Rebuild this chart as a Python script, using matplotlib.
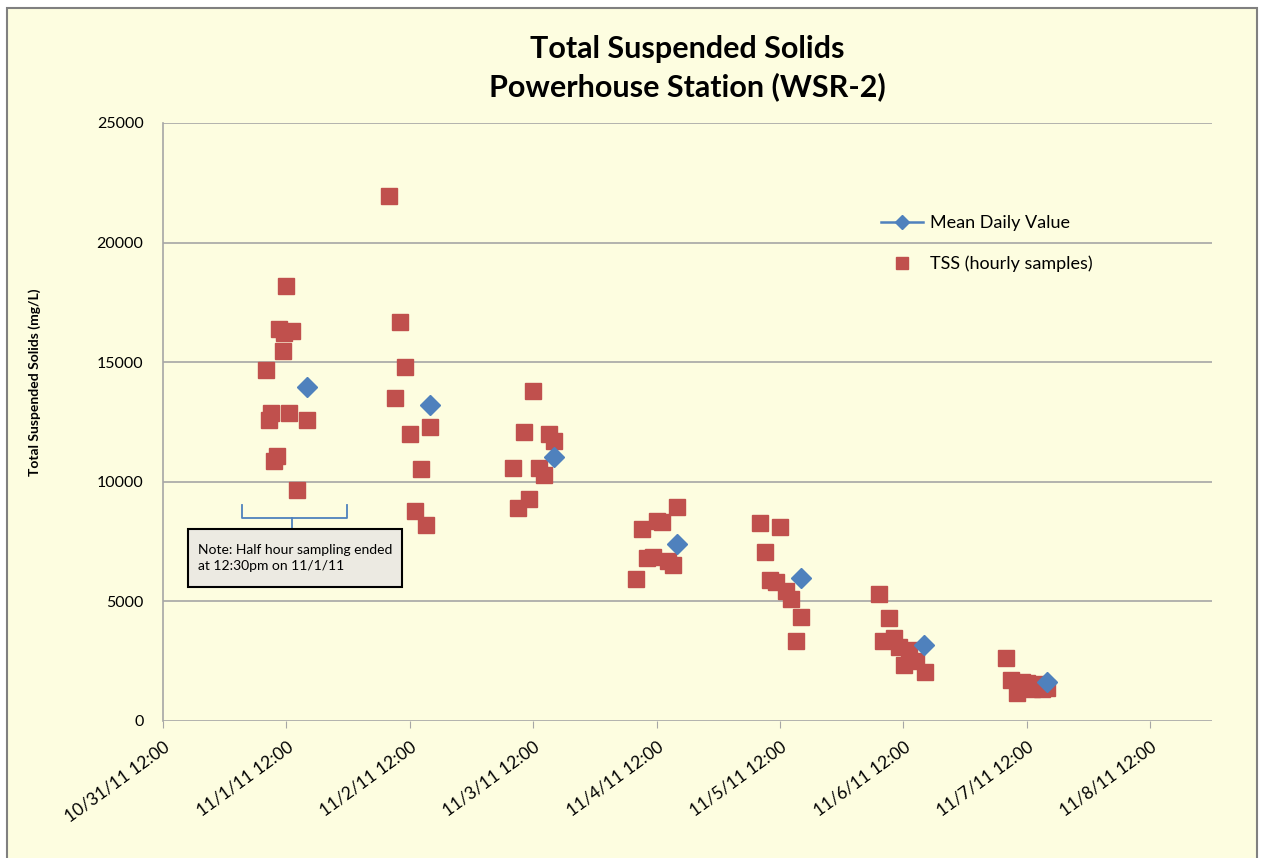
import numpy as np
import pandas as pd
import matplotlib
matplotlib.use("Agg")
import matplotlib.pyplot as plt
from matplotlib.lines import Line2D
from matplotlib.patches import Rectangle

# --- DATA (hours after 10/31/11 12:00) ---
START = pd.Timestamp("2011-10-31 12:00")

tss_hours = [20.0, 20.6, 21.1, 21.6, 22.1, 22.6, 23.3, 23.5, 24.0, 24.6, 25.1, 26.1, 28.0,
             44.0, 45.1, 46.1, 47.1, 48.0, 49.0, 50.1, 51.2, 52.0,
             68.1, 69.0, 70.2, 71.1, 72.0, 73.1, 74.0, 75.1, 76.1,
             92.0, 93.1, 94.2, 95.2, 96.0, 97.0, 98.2, 99.1, 100.0,
             116.1, 117.0, 118.1, 119.2, 120.0, 121.1, 122.1, 123.1, 124.1,
             139.3, 140.0, 141.2, 142.2, 143.2, 144.1, 145.1, 146.4, 148.1,
             164.0, 165.0, 166.0, 167.0, 168.0, 169.0, 170.0, 171.0, 172.0]
tss_values = [14670, 12580, 12860, 10870, 11090, 16400, 15470, 16200, 18200, 12860, 16300, 9660, 12580,
              21960, 13490, 16700, 14810, 12000, 8790, 10520, 8190, 12280,
              10560, 8900, 12070, 9290, 13780, 10560, 10270, 12000, 11700,
              5920, 8010, 6800, 6840, 8370, 8300, 6700, 6520, 8960,
              8290, 7080, 5890, 5800, 8100, 5430, 5100, 3340, 4360,
              5310, 3360, 4320, 3460, 3110, 2340, 2970, 2520, 2060,
              2620, 1710, 1160, 1640, 1600, 1340, 1560, 1330, 1400]

mean_hours = [28, 52, 76, 100, 124, 148, 172]
mean_values = [13950, 13200, 11050, 7420, 5960, 3170, 1640]

tick_dates = pd.date_range(START, periods=9, freq="D")

BG = "#FDFDE0"
BLUE = "#4F81BD"
RED = "#C0504D"

plt.rcParams['font.family'] = ['Lato', 'DejaVu Sans']

fig = plt.figure(figsize=(12.64, 8.58), dpi=100)
fig.patch.set_facecolor("white")
fig.patches.append(Rectangle((7 / 1264, -0.02), 1250 / 1264, 1 - 8 / 858 + 0.02,
                             transform=fig.transFigure, facecolor=BG,
                             edgecolor="#808080", linewidth=1.5, zorder=-10))

ax = fig.add_axes([163 / 1264, 1 - 721 / 858, (1212 - 163) / 1264, (721 - 123) / 858])
ax.set_facecolor(BG)

tss_t = START + pd.to_timedelta(tss_hours, unit="h")
mean_t = START + pd.to_timedelta(mean_hours, unit="h")

ax.plot(tss_t, tss_values, ls="none", marker="s", markersize=11,
        color=RED, markeredgecolor=RED, zorder=3)
ax.plot(mean_t, mean_values, ls="none", marker="D", markersize=10,
        color=BLUE, markeredgecolor=BLUE, zorder=4)

ax.set_ylim(0, 25000)
ax.set_yticks(np.arange(0, 25001, 5000))
ax.set_xlim(START, START + pd.Timedelta(hours=204))
ax.set_xticks(tick_dates)
ax.set_xticklabels([f"{d.month}/{d.day}/{d:%y} {d:%H:%M}" for d in tick_dates],
                   rotation=36, ha="right", va="top", rotation_mode="anchor")

ax.grid(axis="y", color="#A6A6A6", linewidth=1.2)
ax.set_axisbelow(True)
for s in ["top", "right", "bottom"]:
    ax.spines[s].set_visible(False)
ax.spines["left"].set_color("#A6A6A6")
ax.spines["left"].set_linewidth(1.2)
ax.tick_params(axis="y", length=0, labelsize=11.5, pad=14)
ax.tick_params(axis="x", length=5, color="#A6A6A6", labelsize=12.5, pad=8, direction="out")

ax.set_title("Total Suspended Solids\nPowerhouse Station (WSR-2)",
             fontsize=22, fontweight="bold", pad=19, linespacing=1.4)
ax.set_ylabel("Total Suspended Solids (mg/L)", fontsize=10, fontweight="bold")
ax.yaxis.set_label_coords(-0.116, 0.567)

# legend
handles = [Line2D([], [], color=BLUE, marker="D", markersize=7, linewidth=1.8),
           Line2D([], [], color=RED, marker="s", markersize=9, ls="none")]
ax.legend(handles, ["Mean Daily Value", "TSS (hourly samples)"], frameon=False,
          loc="upper left", bbox_to_anchor=(865 / 1264, 1 - 199 / 858),
          bbox_transform=fig.transFigure, fontsize=13, labelspacing=1.35,
          handlelength=2.3, handletextpad=0.4)

# annotation bracket and note box
ax.plot([0.0753, 0.0753, 0.1754, 0.1754], [0.361, 0.339, 0.339, 0.361],
        transform=ax.transAxes, color=BLUE, lw=1.3, clip_on=False)
ax.plot([0.123, 0.123], [0.339, 0.321], transform=ax.transAxes, color=BLUE, lw=1.3, clip_on=False)
ax.add_patch(Rectangle((0.0238, 0.224), 0.204, 0.097, transform=ax.transAxes,
                       facecolor="#ECEAE2", edgecolor="black", lw=1.5, zorder=5))
ax.text(0.033, 0.2725, "Note: Half hour sampling ended\nat 12:30pm on 11/1/11",
        transform=ax.transAxes, fontsize=10, va="center", ha="left", zorder=6,
        linespacing=1.35)

fig.savefig("out.png", dpi=100, facecolor=fig.get_facecolor())
